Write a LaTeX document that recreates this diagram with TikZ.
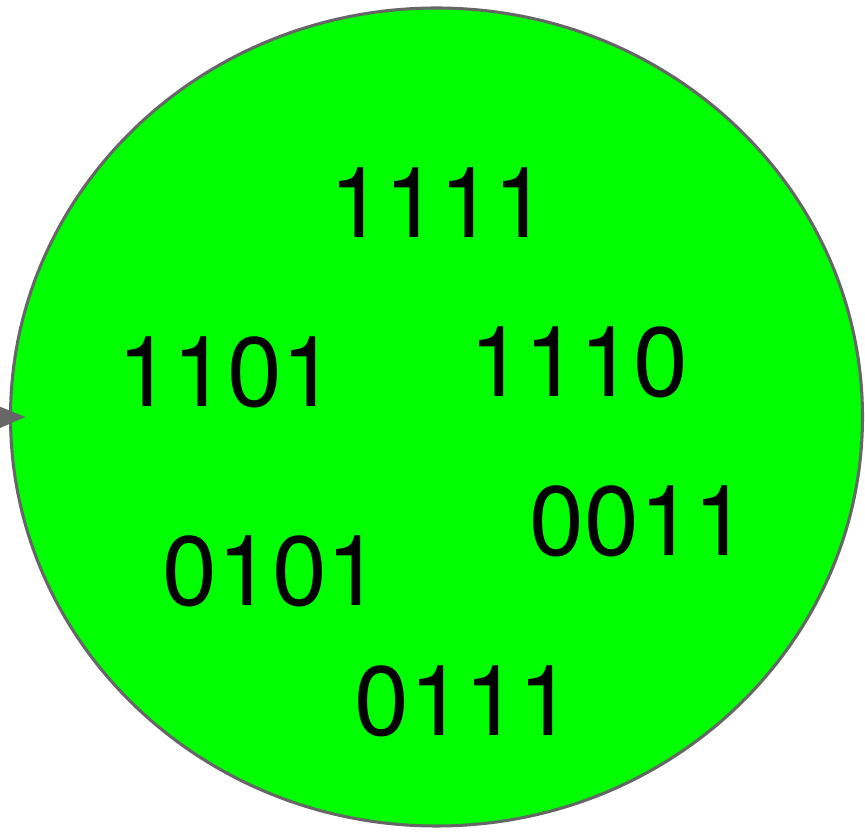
\documentclass[tikz,border=0pt]{standalone}
\usepackage{fontspec}
\setmainfont{TeX Gyre Heros}
\usetikzlibrary{shapes.geometric,arrows.meta,positioning,calc}

\begin{document}
\begin{tikzpicture}[
  setbox/.style={ellipse, draw=black!60, line width=2.6pt, fill=green, minimum width=25.56cm, minimum height=24.54cm},
  code/.style={font=\fontsize{84}{88}\selectfont, inner sep=0pt},
  arrow/.style={-{Triangle[length=0.8cm,width=0.64cm]}, draw=black!60, fill=black!60, line width=2.6pt}
]
  \useasboundingbox (0,0) rectangle (25.95,25.14);
  \node[setbox] (set) at (13.095,12.63) {};
  \node[code] (c1111) at (13.17,19.05) {1111};
  \node[code] (c1101) at (6.81,13.98) {1101};
  \node[code] (c1110) at (17.37,14.28) {1110};
  \node[code] (c0011) at (19.17,9.51) {0011};
  \node[code] (c0101) at (8.16,8.01) {0101};
  \node[code] (c0111) at (13.92,4.11) {0111};
  \coordinate (start) at (-2,12.6);
  \draw[arrow] (start) -- ([xshift=0.5cm]set.west);
\end{tikzpicture}
\end{document}
